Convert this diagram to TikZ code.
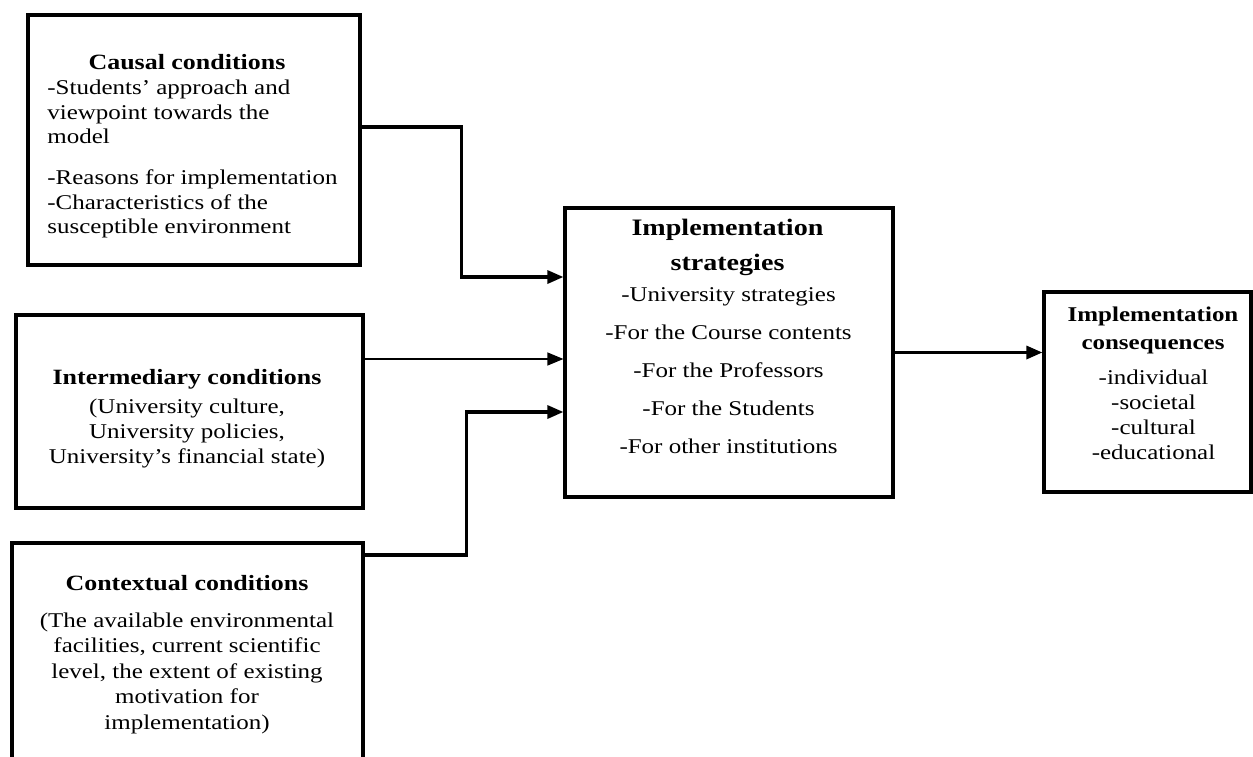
\documentclass[tikz,border=0pt]{standalone}
\usepackage{fontspec}
\setmainfont{Liberation Serif}[FakeStretch=1.19]
\usetikzlibrary{arrows.meta,positioning}

\tikzset{
    cbox/.style={draw, line width=1.6pt, inner sep=0pt},
    ttl/.style={font=\fontsize{10.9}{14}\selectfont\bfseries, inner sep=0pt},
    txt/.style={font=\fontsize{10.5}{#1}\selectfont, inner sep=0pt},
    txt/.default=12.5pt,
    flow/.style={-{Triangle[length=8pt,width=6.5pt]}, line width=1.6pt},
    thinflow/.style={-{Triangle[length=8pt,width=6.5pt]}, line width=0.6pt},
}

\begin{document}
\begin{tikzpicture}[x=0.5pt,y=-0.5pt]
        \useasboundingbox (0,0) rectangle (1253,756);
        \clip (0,0) rectangle (1253,756);

        % boxes
        \node[cbox, minimum width=166pt, minimum height=125pt] (causal) at (194,140) {};
        \node[cbox, minimum width=173.5pt, minimum height=96.5pt] (inter) at (189.5,411.5) {};
        \node[cbox, minimum width=175.5pt, minimum height=137pt] (context) at (187.5,680) {};
        \node[cbox, minimum width=164pt, minimum height=144.5pt] (strat) at (729,352.5) {};
        \node[cbox, minimum width=103.5pt, minimum height=100pt] (conseq) at (1147.5,392) {};

        % causal conditions
        \node[ttl] (causalT) at (187,62) {Causal conditions};
        \node[txt=12.25pt, align=left, anchor=west] (causalB) at (47,159) {-Students’ approach and\\ viewpoint towards the\\ model\\[8.25pt] -Reasons for implementation\\ -Characteristics of the\\ susceptible environment};

        % intermediary conditions
        \node[ttl] (interT) at (187,379) {Intermediary conditions};
        \node[txt, align=center] (interB) at (187,433) {(University culture,\\ University policies,\\ University’s financial state)};

        % contextual conditions
        \node[ttl] (contextT) at (187,583) {Contextual conditions};
        \node[txt=12.75pt, align=center] (contextB) at (187,673) {(The available environmental\\ facilities, current scientific\\ level, the extent of existing\\ motivation for\\ implementation)};

        % strategies
        \node[ttl, font=\fontsize{11.8}{17.5}\selectfont\bfseries, align=center] (stratT) at (727.5,247.5) {Implementation\\ strategies};
        \node[txt=19pt, align=center] (stratB) at (728.5,371) {-University strategies\\ -For the Course contents\\ -For the Professors\\ -For the Students\\ -For other institutions};

        % consequences
        \node[ttl, font=\fontsize{10.5}{14}\selectfont\bfseries, align=center] (conseqT) at (1153,330.5) {Implementation\\ consequences};
        \node[txt, align=center] (conseqB) at (1153.5,414.5) {-individual\\ -societal\\ -cultural\\ -educational};

        % arrows into strategies
        \draw[flow] ([yshift=6.5pt]causal.east) -- ++(100,0) |- ([yshift=37.75pt]strat.west);
        \coordinate (interOut) at ([yshift=26.25pt]inter.east);
        \draw[thinflow] (interOut) -- (interOut -| strat.west);
        \draw[flow] ([yshift=62.5pt]context.east) -- ++(102,0) |- ([yshift=-29.75pt]strat.west);

        % strategies to consequences
        \draw[flow] (strat.east) -- (strat.east -| conseq.west);
\end{tikzpicture}
\end{document}
